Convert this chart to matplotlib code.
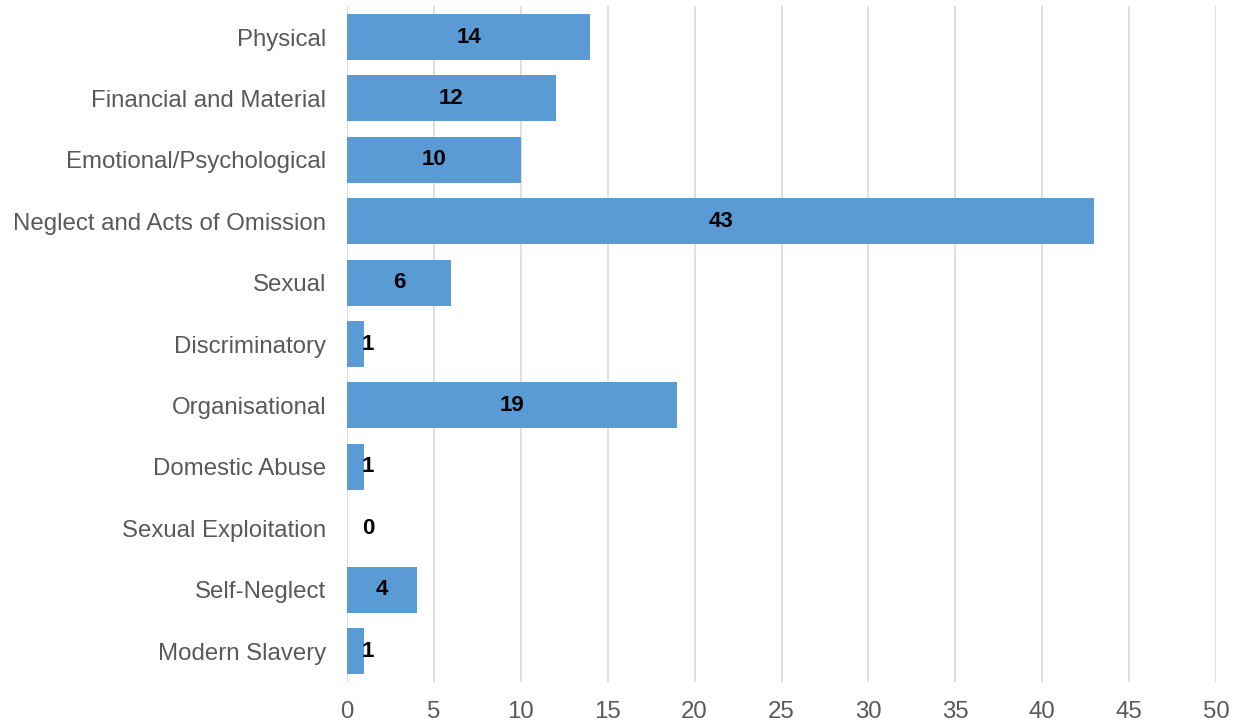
import matplotlib.pyplot as plt

categories = ["Physical", "Financial and Material", "Emotional/Psychological",
              "Neglect and Acts of Omission", "Sexual", "Discriminatory",
              "Organisational", "Domestic Abuse", "Sexual Exploitation",
              "Self-Neglect", "Modern Slavery"]
counts = [14, 12, 10, 43, 6, 1, 19, 1, 0, 4, 1]
x_ticks = [0, 5, 10, 15, 20, 25, 30, 35, 40, 45, 50]

plt.rcParams["font.family"] = ["Liberation Sans", "DejaVu Sans"]

fig = plt.figure(figsize=(12.35, 7.25), dpi=100)
ax = fig.add_axes([0.281, 0.0597, 0.7036, 0.9316])

y = list(range(len(categories)))
ax.barh(y, counts, height=0.75, color="#5B9BD5", zorder=2)

# value labels, centred in bar (nudged right for tiny bars)
for yi, v in zip(y, counts):
    ax.text(max(v / 2, 1.2), yi, str(v), ha="center", va="center",
            fontsize=16, fontweight="bold", color="black", zorder=3)

ax.set_xlim(0, 50)
ax.set_ylim(len(categories) - 0.5, -0.5)
ax.set_xticks(x_ticks)
ax.set_yticks(y)
ax.set_yticklabels(categories)
ax.tick_params(axis="both", length=0, labelsize=17.3, colors="#595959")
ax.tick_params(axis="y", pad=15)
ax.tick_params(axis="x", pad=14)
ax.grid(axis="x", color="#D9D9D9", linewidth=1.2, zorder=0)
for s in ax.spines.values():
    s.set_visible(False)

fig.savefig("out.png", dpi=100)
